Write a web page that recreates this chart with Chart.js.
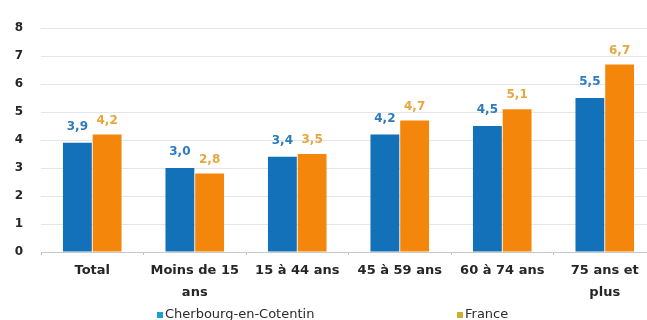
<!DOCTYPE html>
<html>
<head>
<meta charset="utf-8">
<script src="https://cdn.jsdelivr.net/npm/chart.js@4"></script>
<style>
  html, body { margin: 0; padding: 0; background: #fff; overflow: hidden; }
  #wrap { width: 647px; height: 320px; position: relative; overflow: hidden; }
  #c { position: absolute; left: 0; top: 0; }
</style>
</head>
<body>
<div id="wrap"><canvas id="c" width="656" height="320"></canvas></div>
<script>
// Age groups along the x axis
const categories = ["Total", ["Moins de 15", "ans"], "15 à 44 ans", "45 à 59 ans", "60 à 74 ans", ["75 ans et", "plus"]];
// Series values
const cherbourg = [3.9, 3.0, 3.4, 4.2, 4.5, 5.5];
const france = [4.2, 2.8, 3.5, 4.7, 5.1, 6.7];
const seriesNames = ["Cherbourg-en-Cotentin", "France"];
// Y axis ticks
const yTicks = [0, 1, 2, 3, 4, 5, 6, 7, 8];

const BLUE = "#1271b9";
const ORANGE = "#f4870b";
const FONT = "'DejaVu Sans', Verdana, sans-serif";

// Value labels above each bar, French decimal comma
const valueLabels = {
  id: "valueLabels",
  afterDatasetsDraw(chart) {
    const ctx = chart.ctx;
    const colors = ["#2c7bbf", "#e6a73f"];
    const gaps = [10, 8];
    ctx.save();
    ctx.font = "bold 12px " + FONT;
    ctx.textAlign = "center";
    ctx.textBaseline = "bottom";
    chart.data.datasets.forEach((ds, di) => {
      const meta = chart.getDatasetMeta(di);
      meta.data.forEach((bar, i) => {
        ctx.fillStyle = colors[di];
        ctx.fillText(ds.data[i].toFixed(1).replace(".", ","), bar.x, bar.y - gaps[di]);
      });
    });
    ctx.restore();
  }
};

// Legend spread across the bottom edge
const spreadLegend = {
  id: "spreadLegend",
  afterDraw(chart) {
    const ctx = chart.ctx;
    const xs = [157, 457];
    const y = 315;
    ctx.save();
    ctx.font = "13px " + FONT;
    ctx.textBaseline = "middle";
    ctx.textAlign = "left";
    chart.data.datasets.forEach((ds, i) => {
      ctx.fillStyle = i === 0 ? "#1aa0d8" : "#c9b030";
      ctx.fillRect(xs[i], y - 3, 6, 6);
      ctx.fillStyle = "#2b2b2b";
      ctx.fillText(ds.label, xs[i] + 8, y);
    });
    ctx.restore();
  }
};

new Chart(document.getElementById("c"), {
  type: "bar",
  data: {
    labels: categories,
    datasets: [
      { label: seriesNames[0], data: cherbourg, backgroundColor: BLUE, categoryPercentage: 0.58, barPercentage: 0.97 },
      { label: seriesNames[1], data: france, backgroundColor: ORANGE, categoryPercentage: 0.58, barPercentage: 0.97 }
    ]
  },
  options: {
    responsive: false,
    animation: false,
    layout: { padding: { top: 28, left: 0, right: 0, bottom: 0 } },
    plugins: {
      legend: { display: false },
      tooltip: { enabled: false }
    },
    scales: {
      x: {
        grid: { display: true, drawOnChartArea: false, drawTicks: true, tickLength: 3, color: "#bfbfbf" },
        border: { color: "#c8c8c8" },
        ticks: {
          color: "#262626",
          font: { family: FONT, size: 13, weight: "bold", lineHeight: 1.65 },
          padding: 5,
          maxRotation: 0,
          autoSkip: false
        },
        afterFit(scale) { scale.height = 68; }
      },
      y: {
        min: 0,
        max: 8,
        afterBuildTicks(scale) { scale.ticks = yTicks.map(v => ({ value: v })); },
        grid: { color: "#e6e6e6", drawTicks: false },
        border: { display: false },
        ticks: {
          color: "#262626",
          font: { family: FONT, size: 12, weight: "bold" },
          padding: 18
        },
        afterFit(scale) { scale.width = 41; }
      }
    }
  },
  plugins: [valueLabels, spreadLegend]
});
</script>
</body>
</html>
